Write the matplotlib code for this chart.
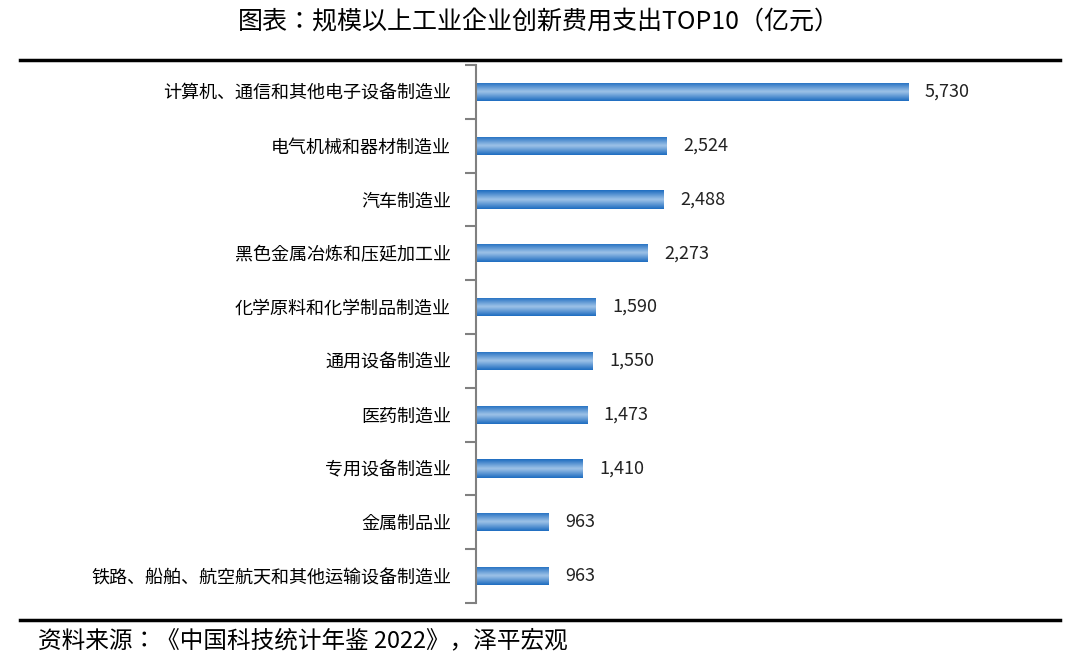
import matplotlib
matplotlib.use("Agg")
import matplotlib.pyplot as plt
import numpy as np
from matplotlib.colors import LinearSegmentedColormap

plt.rcParams["font.family"] = "sans-serif"
plt.rcParams["font.sans-serif"] = ["Noto Sans CJK SC", "Noto Sans CJK JP", "Noto Sans CJK TC",
                                   "Noto Sans CJK KR", "DejaVu Sans"]

categories = ["计算机、通信和其他电子设备制造业", "电气机械和器材制造业", "汽车制造业",
              "黑色金属冶炼和压延加工业", "化学原料和化学制品制造业", "通用设备制造业",
              "医药制造业", "专用设备制造业", "金属制品业", "铁路、船舶、航空航天和其他运输设备制造业"]
values = [5730, 2524, 2488, 2273, 1590, 1550, 1473, 1410, 963, 963]
labels = ["5,730", "2,524", "2,488", "2,273", "1,590", "1,550", "1,473", "1,410", "963", "963"]

fig = plt.figure(figsize=(10.77, 6.70), dpi=100)
ax = fig.add_axes([476/1077, 1-603/670, 584/1077, 538/670])
n = len(categories)
ys = np.arange(n)
cmap = LinearSegmentedColormap.from_list("g", ["#1d6cc0", "#9fc3e8", "#1d6cc0"])
grad = np.linspace(0, 1, 64).reshape(-1, 1)
h = 0.34
bars = ax.barh(ys, values, height=h, color="none")
for b, lab in zip(bars, labels):
    x0, y0, w, hh = b.get_x(), b.get_y(), b.get_width(), b.get_height()
    im = ax.imshow(grad, cmap=cmap, aspect="auto", extent=[x0, x0 + w, y0, y0 + hh],
                   interpolation="bicubic", zorder=2)
    im.set_clip_path(b)
    ax.text(x0 + w + 220, y0 + hh / 2, lab, va="center", ha="left", fontsize=13, color="#222222")
ax.set_xlim(0, 7746)
ax.set_ylim(n - 0.5, -0.5)
ax.set_yticks(ys)
ax.set_yticklabels(categories, fontsize=13)
ax.set_yticks(np.arange(-0.5, n, 1), minor=True)
ax.tick_params(axis="y", which="major", length=0, pad=18)
ax.tick_params(axis="y", which="minor", length=8, color="#808080", width=1.5)
ax.set_xticks([])
for s in ["top", "right", "bottom"]:
    ax.spines[s].set_visible(False)
ax.spines["left"].set_color("#808080")
ax.spines["left"].set_linewidth(1.5)

fig.text(0.5, 1-22/670, "图表：规模以上工业企业创新费用支出TOP10（亿元）", ha="center", va="center", fontsize=18)
fig.add_artist(plt.Line2D([20/1077, 1060/1077], [1-60/670]*2, color="black", lw=2.5))
fig.add_artist(plt.Line2D([20/1077, 1060/1077], [1-620/670]*2, color="black", lw=2.5))
fig.text(38/1077, 1-641/670, "资料来源：《中国科技统计年鉴 2022》，泽平宏观", ha="left", va="center",
         fontsize=17, style="italic")
fig.savefig("out.png", dpi=100)
